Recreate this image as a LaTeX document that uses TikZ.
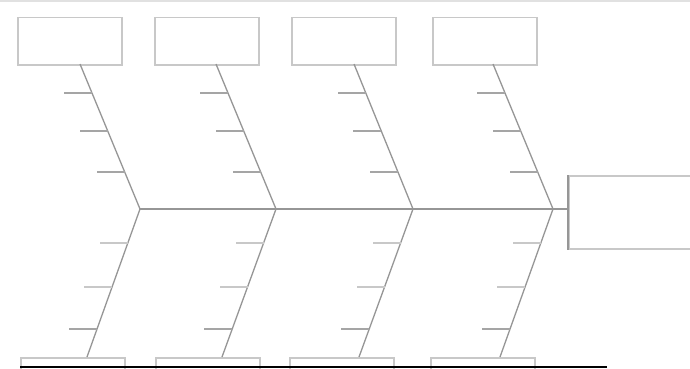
\documentclass[tikz,border=0pt]{standalone}
\definecolor{boxgray}{RGB}{200,200,200}
\definecolor{bonegray}{RGB}{150,150,150}
\definecolor{tickgray}{RGB}{165,165,165}
\definecolor{edgegray}{RGB}{225,225,225}
\begin{document}
\begin{tikzpicture}[x=1pt,y=-1pt,
  box/.style={draw=boxgray, line width=1.5pt, minimum width=104pt, minimum height=47pt, inner sep=0pt, anchor=north west},
  bigbox/.style={draw=boxgray, line width=1.5pt, minimum width=140pt, minimum height=73pt, inner sep=0pt, anchor=north west},
  bone/.style={draw=bonegray, line width=1.3pt},
  spine/.style={draw=bonegray, line width=2pt},
  ticksty/.style={draw=tickgray, line width=1.3pt},
  lowticksty/.style={draw=boxgray, line width=1.3pt}]
\useasboundingbox (0,0) rectangle (690,369);
\clip (0,0) rectangle (690,369);
\fill[white] (0,0) rectangle (690,369);
\draw[edgegray, line width=1.5pt] (0,1) -- (690,1);
% top boxes
\node[box] (t1) at (17,17) {};
\node[box] (t2) at (154,17) {};
\node[box] (t3) at (291,17) {};
\node[box] (t4) at (432,17) {};
% bottom boxes
\node[box] (u1) at (20,357) {};
\node[box] (u2) at (155,357) {};
\node[box] (u3) at (289,357) {};
\node[box] (u4) at (430,357) {};
% effect box
\node[bigbox] (eff) at (568,175) {};
\draw[bonegray, line width=1.5pt] (eff.north west) -- (eff.south west);
% junctions
\coordinate (j1) at (140,209);
\coordinate (j2) at (276,209);
\coordinate (j3) at (413,209);
\coordinate (j4) at (553,209);
% top bone starts
\coordinate (s1) at (80,64);
\coordinate (s2) at (216,64);
\coordinate (s3) at (354,64);
\coordinate (s4) at (493,64);
% bottom bone ends
\coordinate (e1) at (87,357);
\coordinate (e2) at (222,357);
\coordinate (e3) at (359,357);
\coordinate (e4) at (500,357);
% spine
\draw[spine] (j1) -- (eff.west |- j1);
% bones with ticks
\foreach \i in {1,2,3,4}{
  \draw[bone] (s\i) -- coordinate[pos=0.2] (a\i) coordinate[pos=0.462] (b\i) coordinate[pos=0.745] (c\i) (j\i);
  \draw[bone] (j\i) -- coordinate[pos=0.23] (d\i) coordinate[pos=0.527] (f\i) coordinate[pos=0.81] (g\i) (e\i);
  \draw[ticksty] (a\i) -- ++(-28,0);
  \draw[ticksty] (b\i) -- ++(-28,0);
  \draw[ticksty] (c\i) -- ++(-28,0);
  \draw[lowticksty] (d\i) -- ++(-28,0);
  \draw[lowticksty] (f\i) -- ++(-28,0);
  \draw[ticksty] (g\i) -- ++(-28,0);
}
% bottom rule
\coordinate (r1) at (20,367);
\coordinate (r2) at (607,367);
\draw[black, line width=2pt] (r1) -- (r2);
\end{tikzpicture}
\end{document}
